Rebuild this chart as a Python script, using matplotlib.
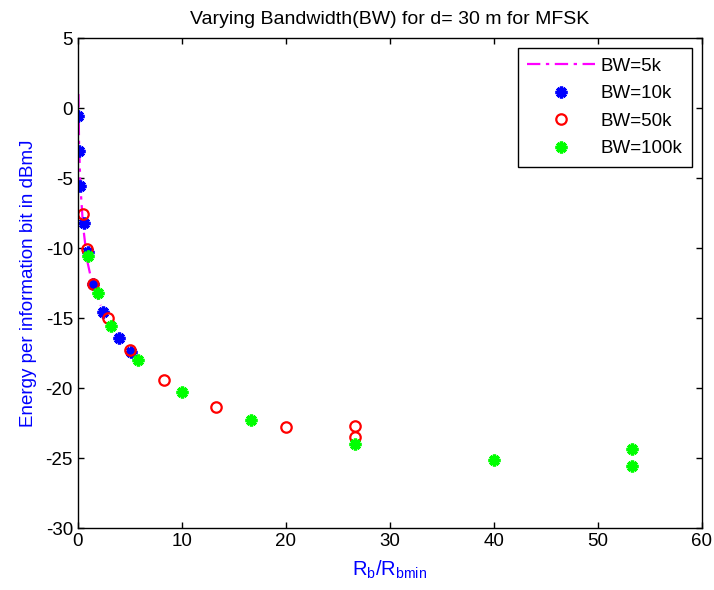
import matplotlib
matplotlib.use("Agg")
import matplotlib.pyplot as plt

# BW=5k curve (dash-dot line)
bw5_x = [0.06, 0.12, 0.25, 0.5, 0.9, 1.4, 2.2]
bw5_y = [1.0, -2.6, -5.6, -8.4, -10.9, -12.6, -14.1]

# BW=10k
bw10_x = [0.03, 0.1, 0.25, 0.6, 0.95, 1.5, 2.45, 3.95, 5.1]
bw10_y = [-0.6, -3.1, -5.6, -8.2, -10.3, -12.6, -14.6, -16.4, -17.4]

# BW=50k
bw50_x = [0.45, 0.85, 1.5, 2.9, 5.05, 8.33, 13.33, 20.0, 26.67, 26.67]
bw50_y = [-7.6, -10.1, -12.6, -15.0, -17.3, -19.45, -21.35, -22.8, -22.7, -23.5]

# BW=100k
bw100_x = [0.95, 1.9, 3.2, 5.8, 10.0, 16.67, 26.67, 40.0, 53.33, 53.33]
bw100_y = [-10.6, -13.2, -15.6, -18.0, -20.3, -22.3, -24.0, -25.15, -24.35, -25.55]

plt.rcParams["font.family"] = ["Liberation Sans", "DejaVu Sans"]
plt.rcParams["axes.unicode_minus"] = False

fig = plt.figure(figsize=(7.14, 5.90), dpi=100)
ax = fig.add_axes([0.109, 0.105, 0.874, 0.8305])

ax.plot(bw5_x, bw5_y, linestyle=(0, (6, 2.5, 1.5, 2.5)), color=(1, 0, 1), linewidth=1.6,
        label="BW=5k")
ax.plot(bw10_x, bw10_y, linestyle="none", marker=(8, 2, 0), markersize=8.5,
        markeredgewidth=2.4, color="blue", label="BW=10k")
ax.plot(bw50_x, bw50_y, linestyle="none", marker="o", markersize=7.5,
        markerfacecolor="none", markeredgewidth=1.6, color="red", label="BW=50k")
ax.plot(bw100_x, bw100_y, linestyle="none", marker=(8, 2, 0), markersize=8.5,
        markeredgewidth=2.4, color=(0, 1, 0), label="BW=100k")

ax.set_xlim(0, 60)
ax.set_ylim(-30, 5)
ax.set_xticks(range(0, 61, 10))
ax.set_yticks(range(-30, 6, 5))
ax.tick_params(direction="in", length=4, width=1, top=True, right=True, labelsize=13.5)
for s in ax.spines.values():
    s.set_linewidth(1.0)

ax.set_title("Varying Bandwidth(BW) for d= 30 m for MFSK", fontsize=14, pad=10)
ax.set_ylabel("Energy per information bit in dBmJ", color="blue", fontsize=13.5, labelpad=6)
ax.set_xlabel(r"R$_\mathregular{b}$/R$_\mathregular{bmin}$", color="blue", fontsize=14.5,
              labelpad=6)

leg = ax.legend(loc="upper right", fontsize=13.5, handlelength=3.6, handletextpad=0.3,
                fancybox=False, framealpha=1, edgecolor="black", borderaxespad=0.55,
                labelspacing=0.55, borderpad=0.5)
leg.get_frame().set_linewidth(1.0)

fig.savefig("out.png", dpi=100)
